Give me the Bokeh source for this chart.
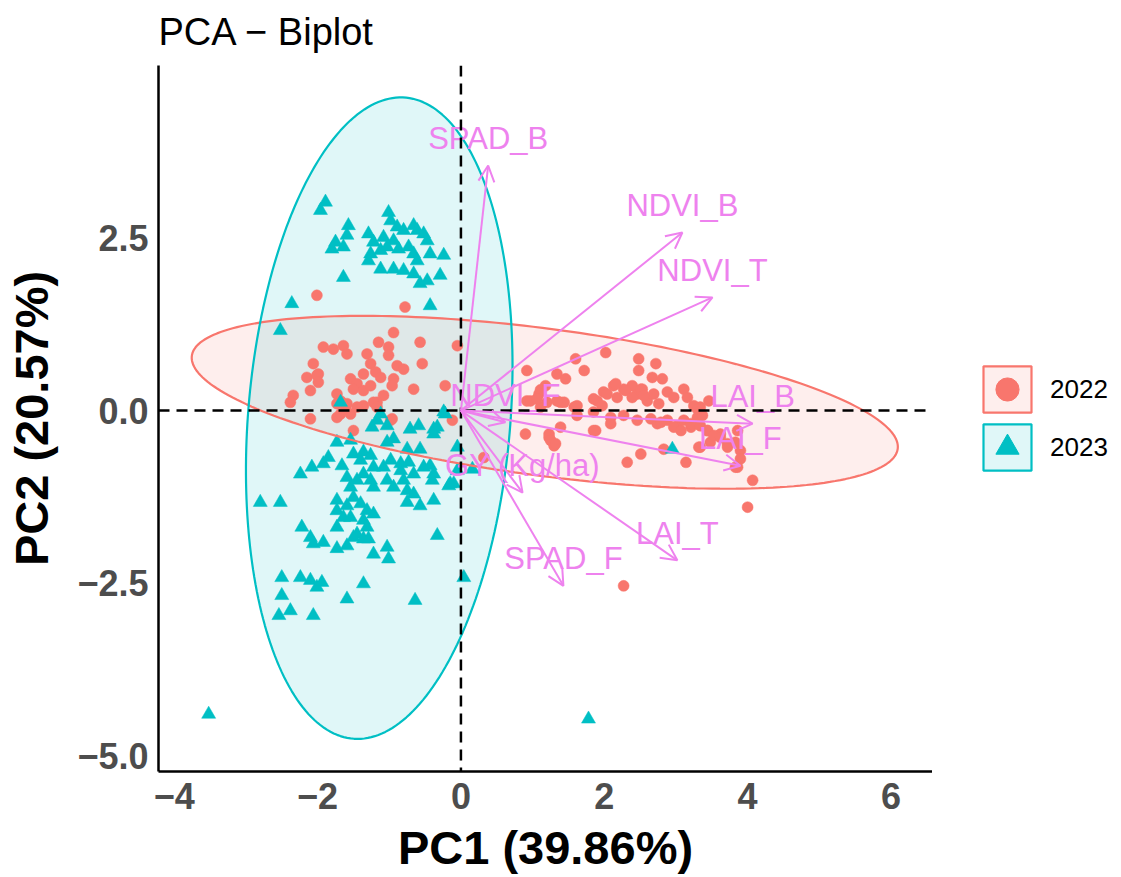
import numpy as np
from bokeh.plotting import figure
from bokeh.layouts import row
from bokeh.models import (Range1d, Span, Arrow, OpenHead, ColumnDataSource,
                          Legend, LegendItem, FixedTicker)
from bokeh.core.properties import value
from bokeh.embed import file_html
from bokeh.resources import INLINE

# ---------------- data ----------------
groups = ["2022", "2023"]
group_colors = ["#F8766D", "#00BFC4"]
group_markers = ["circle", "triangle"]

pc1_2022 = [-2.01, -0.78, -0.94, -0.57, -0.05, -1.92, -1.78, -1.64, -1.59, -1.15, -1.01, -1.31, -1.01, -0.89,
            -0.80, -0.54, -2.06, -1.99, -2.15, -2.10, -2.34, -2.38, -1.73, -1.68, -1.54, -1.45, -1.36, -1.26,
            -1.19, -1.50, -1.36, -1.26, -1.12, -1.08, -0.94, -0.96, -0.66, -0.22, -1.73, -1.54, -2.10, -1.50,
            -0.98, -0.12, -1.17, -1.61, -1.36, 0.32, -2.01, -1.99, -0.96, -1.68, -1.73, -1.59, -1.45, -1.22,
            -1.17,
            0.92, 1.34, 1.46, 1.60, 1.72, 2.02, 2.48, 2.48, 2.72, 2.67, 2.81, 0.92, 1.09, 1.20, 1.11, 1.39, 1.58,
            1.90, 1.99, 2.13, 2.18, 2.27, 2.39, 2.46, 2.53, 2.60, 2.69, 2.76, 2.88, 2.97, 3.11, 3.16, 3.25, 3.34,
            3.46, 1.62, 1.85, 2.09, 2.27, 2.46, 2.65, 2.74, 2.88, 3.02, 3.11, 3.21, 3.30, 0.90, 1.23, 1.30, 1.39,
            1.88, 2.32, 2.51, 2.83, 3.14, 3.32, 3.44, 3.48, 3.62, 3.72, 3.83, 3.86, 3.90, 3.90, 3.86, 4.07, 4.00,
            2.27, 1.44, 1.62, 1.85, 1.97, 2.09, 1.85, 2.79, 2.97, 3.07, 3.21, 3.34, 3.44, 3.53, 3.62, 3.72, 3.34,
            3.83, 3.30, 3.37, 1.11, 1.18, 0.97, 1.06, 1.34, 1.23, 1.25, 1.32, 2.16, 2.04, 2.30, 2.39, 2.51, 2.55]
pc2_2022 = [1.67, 1.50, 1.13, 0.99, 0.94, 0.92, 0.89, 0.94, 0.82, 0.99, 0.92, 0.82, 0.80, 0.65,
            0.60, 0.68, 0.68, 0.53, 0.48, 0.29, 0.22, 0.12, 0.24, 0.14, 0.46, 0.39, 0.53, 0.68,
            0.56, 0.31, 0.29, 0.36, 0.48, 0.22, 0.46, 0.36, 0.31, 0.36, -0.10, -0.05, -0.12, -0.29,
            -0.14, -0.14, 0.12, 0.05, 0.07, -0.68, 0.51, 0.41, -0.12, -0.05, 0.10, 0.10, 0.05, 0.12,
            0.05,
            0.58, 0.53, 0.46, 0.75, 0.58, 0.84, 0.75, 0.58, 0.68, 0.48, 0.46, 0.14, 0.24, 0.12, 0.05, 0.12, 0.05,
            0.14, 0.27, 0.36, 0.19, 0.31, 0.36, 0.24, 0.31, 0.14, 0.24, 0.10, 0.27, 0.19, 0.31, 0.19, 0.07, 0.05,
            0.14, -0.07, -0.02, -0.10, -0.07, -0.14, -0.12, -0.19, -0.14, -0.22, -0.14, -0.24, -0.10, -0.34, -0.39,
            -0.51, -0.24, -0.29, -0.75, -0.63, -0.56, -0.75, -0.53, -0.29, -0.46, -0.34, -0.48, -0.46, -0.29, -0.58,
            -0.70, -0.82, -1.01, -1.40, -2.54, 0.12, 0.07, 0.17, 0.07, -0.19, -0.29, -0.17, -0.24, -0.29, -0.19,
            -0.22, -0.29, -0.36, -0.39, -0.53, -0.53, -0.82, 0.02, -0.07, 0.30, 0.36, 0.14, 0.17, 0.14, -0.34,
            -0.43, -0.48, 0.39, 0.24, 0.29, 0.19, 0.31, 0.22]

pc1_2023 = [-1.89, -1.96, -1.57, -1.59, -1.75, -1.80, -1.64, -1.29, -1.22, -1.26, -1.29, -1.01, -0.98, -0.89,
            -0.80, -0.66, -0.61, -0.52, -0.47, -1.08, -0.94, -1.12, -1.03, -0.87, -0.73, -0.66, -0.61, -0.43,
            -0.24, -1.12, -0.94, -0.80, -0.66, -0.57, -0.47, -0.29, -1.64, -2.36, -0.43, -2.52,
            -1.68, -1.12, -1.17, -1.24, -1.03, -0.71, -0.59, -0.38, -0.22, -1.73, -1.54, -0.94, -1.03, -0.57,
            -0.75, -0.05, -2.24, -2.08, -1.92, -1.85, -1.66, -1.50, -1.40, -1.36, -1.26, -1.22, -1.08, -0.98,
            -0.84, -0.84, -0.73, -0.66, -0.52, -0.43, -0.38, -0.40, -0.15, -0.05, -1.59, -1.54, -1.45, -1.36,
            -1.26, -1.22, -1.03, -0.94, -0.80, -0.75, -0.66, -0.75, -0.57, -0.38, -2.80, -2.52, -1.73, -1.59,
            -1.73, -1.50, -1.40, -1.31, -1.22, -1.54, -1.36, -1.31, -1.45, -1.50, -1.36, -1.29, -1.73, -1.64,
            -2.22, -2.10, -2.06, -1.92, -1.73, -1.59, -1.22, -1.03, -1.01, -0.33, -2.50, -2.24, -2.10, -2.01,
            -1.94, -1.36, -2.50, -1.59, -0.64, 0.04, -2.38, -2.54, -2.06, -3.52, 1.78, 2.95, -0.24, -0.33,
            -0.38, 0.16, -0.10, -0.17]
pc2_2023 = [3.02, 2.90, 2.68, 2.54, 2.44, 2.34, 2.37, 2.56, 2.44, 2.27, 2.17, 2.87, 2.75, 2.66,
            2.61, 2.68, 2.61, 2.56, 2.46, 2.51, 2.46, 2.32, 2.37, 2.34, 2.37, 2.27, 2.17, 2.27,
            2.25, 2.05, 2.05, 2.03, 1.98, 1.84, 1.88, 1.96, 1.93, 1.55, 1.52, 1.16,
            0.12, -0.05, -0.14, -0.24, -0.22, -0.27, -0.22, -0.27, -0.05, -0.46, -0.43, -0.41, -0.46, -0.56,
            -0.56, -0.53, -0.92, -0.82, -0.77, -0.68, -0.80, -0.63, -0.72, -0.60, -0.65, -0.82, -0.82, -0.72,
            -0.77, -0.87, -0.75, -0.92, -0.82, -0.80, -0.92, -1.01, -1.06, -0.87, -0.97, -1.11, -1.01, -0.92,
            -1.01, -1.11, -1.01, -1.11, -1.01, -1.16, -1.21, -1.33, -1.38, -1.30, -1.33, -1.33, -1.30, -1.38,
            -1.45, -1.26, -1.35, -1.45, -1.50, -1.55, -1.59, -1.69, -1.79, -1.84, -1.86, -1.86, -1.69, -1.55,
            -1.69, -1.84, -1.93, -1.91, -2.00, -1.96, -2.08, -1.98, -2.15, -1.81, -2.42, -2.42, -2.46, -2.56,
            -2.49, -2.51, -2.68, -2.73, -2.75, -2.42, -2.90, -2.97, -2.97, -4.40, -4.47, -0.56, -0.02, -0.24,
            -0.34, -0.85, -1.06, -1.09]

# variable loadings (arrow tips)
var_names = ["SPAD_B", "NDVI_B", "NDVI_T", "LAI_B", "LAI_F", "LAI_T", "SPAD_F", "GY (Kg/ha)", "NDVI_F"]
var_pc1 = [0.38, 3.09, 3.51, 4.07, 3.90, 3.02, 1.43, 0.86, 0.62]
var_pc2 = [3.55, 2.58, 1.64, -0.19, -0.80, -2.17, -2.54, -1.19, -0.17]

# concentration ellipses: centre and covariance-type shape parameters per group
ell_cx = [1.17, -1.14]
ell_cy = [0.12, -0.11]
ell_sxx = [24.27, 3.459]
ell_sxy = [-3.178, 1.405]
ell_syy = [1.569, 21.60]

x_ticks = [-4, -2, 0, 2, 4, 6]
y_ticks = [-5.0, -2.5, 0.0, 2.5]
x_title = "PC1 (39.86%)"
y_title = "PC2 (20.57%)"
plot_title = "PCA \u2212 Biplot"

# ---------------- figure ----------------
FONT = "Liberation Sans"
VIOLET = "#EE82EE"
X0, X1, Y0, Y1 = -4.22, 6.58, -5.23, 5.0
W_MAIN, W_LEG, H = 932, 189, 877
B_TOP, B_BOTTOM = 65, 106

p = figure(width=W_MAIN, height=H, x_range=Range1d(X0, X1), y_range=Range1d(Y0, Y1),
           output_backend="svg", toolbar_location=None,
           min_border_left=158, min_border_right=0, min_border_top=B_TOP, min_border_bottom=B_BOTTOM)
p.background_fill_color = "white"
p.border_fill_color = "white"
p.outline_line_color = None
p.xgrid.visible = False
p.ygrid.visible = False

p.title.text = plot_title
p.title.text_font = FONT
p.title.text_font_size = "38px"
p.title.text_font_style = "normal"
p.title.text_color = "black"
p.title.align = "left"
p.title.vertical_align = "top"
p.title.standoff = 21

def minus(v, fmt):
    return fmt.format(v).replace("-", "\u2212")

for ax, ticks, fmt in [(p.xaxis, x_ticks, "{:d}"), (p.yaxis, y_ticks, "{:.1f}")]:
    ax.ticker = FixedTicker(ticks=ticks)
    ax.major_label_overrides = {t: minus(t, fmt) for t in ticks}
    ax.major_tick_line_color = None
    ax.minor_tick_line_color = None
    ax.major_tick_out = 0
    ax.major_tick_in = 0
    ax.axis_line_color = "black"
    ax.axis_line_width = 2.5
    ax.major_label_text_font = FONT
    ax.major_label_text_font_size = "36px"
    ax.major_label_text_font_style = "bold"
    ax.major_label_text_color = "#4D4D4D"
    ax.axis_label_text_font = FONT
    ax.axis_label_text_font_size = "47px"
    ax.axis_label_text_font_style = "bold"
    ax.axis_label_text_color = "black"

p.xaxis.axis_label = x_title
p.yaxis.axis_label = y_title
p.xaxis.major_label_standoff = 11
p.xaxis.axis_label_standoff = 9
p.yaxis.major_label_standoff = 10
p.yaxis.axis_label_standoff = 16

# ellipse polygons from centre + shape
t = np.linspace(0, 2 * np.pi, 240)
circle = np.vstack([np.cos(t), np.sin(t)])
ell_xy = []
for i in range(len(groups)):
    cov = np.array([[ell_sxx[i], ell_sxy[i]], [ell_sxy[i], ell_syy[i]]])
    L = np.linalg.cholesky(cov)
    pts = L @ circle
    ex = ell_cx[i] + pts[0]
    ey = ell_cy[i] + pts[1]
    ell_xy.append((ex, ey))
    p.patch(ex, ey, fill_color=group_colors[i], fill_alpha=0.12, line_alpha=0)

# points
pt_data = [(pc1_2022, pc2_2022), (pc1_2023, pc2_2023)]
for i in range(len(groups)):
    xs, ys = pt_data[i]
    size = 11 if group_markers[i] == "circle" else 14
    p.scatter(xs, ys, marker=group_markers[i], size=size, fill_color=group_colors[i],
              line_color=group_colors[i], line_width=0.5)

# ellipse outlines
for i in range(len(groups)):
    ex, ey = ell_xy[i]
    p.patch(ex, ey, fill_alpha=0, line_color=group_colors[i], line_width=2.2)

# reference lines
p.add_layout(Span(location=0, dimension="height", line_color="black", line_width=2.5, line_dash="11 7"))
p.add_layout(Span(location=0, dimension="width", line_color="black", line_width=2.5, line_dash="11 7"))

# variable arrows
vsrc = ColumnDataSource(dict(x0=[0.0] * len(var_names), y0=[0.0] * len(var_names),
                             x1=var_pc1, y1=var_pc2, name=var_names))
p.add_layout(Arrow(end=OpenHead(size=16, line_color=VIOLET, line_width=2),
                   x_start="x0", y_start="y0", x_end="x1", y_end="y1", source=vsrc,
                   line_color=VIOLET, line_width=2))
p.text(x="x1", y="y1", text="name", source=vsrc, text_font=value(FONT), text_font_size="31px",
       text_color=VIOLET, text_align="center", text_baseline="middle", y_offset=-27)

# ---------------- legend panel (separate narrow figure to the right) ----------------
pl = figure(width=W_LEG, height=H, x_range=Range1d(0, 1), y_range=Range1d(0, 1),
            output_backend="svg", toolbar_location=None,
            min_border_left=0, min_border_right=0, min_border_top=B_TOP, min_border_bottom=B_BOTTOM)
pl.axis.visible = False
pl.xgrid.visible = False
pl.ygrid.visible = False
pl.outline_line_color = None
pl.background_fill_color = "white"
pl.border_fill_color = "white"

# key glyphs: one hidden sample each (outside the visible range) so that the legend draws them
items = []
for i in range(len(groups)):
    kf = pl.patch([-5, -4, -4], [-5, -5, -4], fill_color=group_colors[i], fill_alpha=0.12, line_alpha=0)
    kl = pl.patch([-5, -4, -4], [-5, -5, -4], fill_alpha=0, line_color=group_colors[i], line_width=2.2)
    km = pl.scatter([-5], [-5], marker=group_markers[i], size=11, fill_color=group_colors[i],
                    line_color=group_colors[i])
    items.append(LegendItem(label=groups[i], renderers=[kf, kl, km]))

legend = Legend(items=items, location="center_left", margin=45, padding=10, spacing=-6,
                glyph_width=60, glyph_height=58, label_standoff=13,
                label_text_font=FONT, label_text_font_size="26px", label_text_color="black",
                border_line_color=None, background_fill_alpha=0)
pl.add_layout(legend)

layout = row(p, pl, spacing=0)
open("out.html", "w").write(file_html(layout, INLINE))
